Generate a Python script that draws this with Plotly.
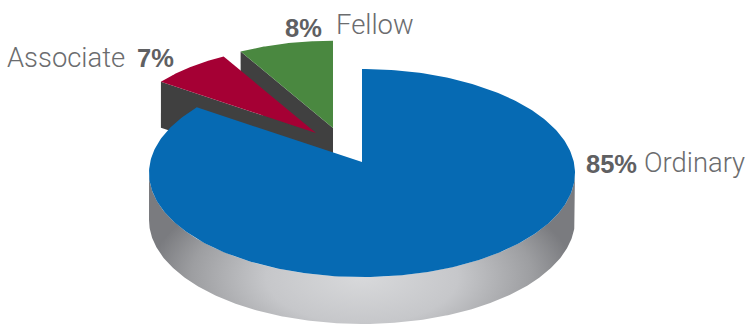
import numpy as np
import plotly.graph_objects as go

categories = ["Ordinary", "Associate", "Fellow"]
values = [85, 7, 8]
colors = ["#066ab3", "#a50034", "#4a8840"]

W, H = 747, 325
RX, RY_VIEW, RY_EDGE = 213, 97, 104
CX, CY = 362, 173          # main ellipse centre
APEX = (362, 162)          # main slice apex (perspective)
DEPTH = 47
EXPLODE_APEX = {"Associate": (316, 133), "Fellow": (333, 128)}
EXPLODE_SCALE = 0.9
WALL = 46
DARK = "#404040"


def main_arc(a0, a1):
    th = np.radians(np.linspace(a0, a1, 300))
    dx, dy = np.sin(th) * RX, -np.cos(th) * RY_VIEW
    ox, oy = APEX[0] - CX, APEX[1] - CY
    A = (dx / RX) ** 2 + (dy / RY_EDGE) ** 2
    B = 2 * (ox * dx / RX ** 2 + oy * dy / RY_EDGE ** 2)
    C = (ox / RX) ** 2 + (oy / RY_EDGE) ** 2 - 1
    t = (-B + np.sqrt(B * B - 4 * A * C)) / (2 * A)
    return APEX[0] + t * dx, APEX[1] + t * dy


def exploded_arc(apex, a0, a1):
    th = np.radians(np.linspace(a0, a1, 80))
    return (apex[0] + EXPLODE_SCALE * RX * np.sin(th),
            apex[1] - EXPLODE_SCALE * RY_VIEW * np.cos(th))


def poly(x, y, color=None, gradient=None):
    kw = dict(fillgradient=gradient) if gradient else dict(fillcolor=color)
    return go.Scatter(x=list(x), y=list(y), mode="lines", fill="toself",
                      line=dict(width=0), hoverinfo="skip", showlegend=False, **kw)


fig = go.Figure()

# Side wall of the main slice, with a radial shine
th = np.radians(np.linspace(90, 270, 300))
ex = CX + RX * np.sin(th)
ey = CY - RY_EDGE * np.cos(th)
side_x = np.concatenate([[ex[0]], ex, [ex[-1]], ex[::-1]])
side_y = np.concatenate([[ey[0]], ey + DEPTH, [ey[-1]], ey[::-1]])
# zero-width spike below the canvas moves the gradient centre to the rim
mid = len(ex) // 2 + 1
side_x = np.concatenate([side_x[:mid], [side_x[mid - 1], side_x[mid - 1], side_x[mid - 1]], side_x[mid:]])
side_y = np.concatenate([side_y[:mid], [side_y[mid - 1], 381, side_y[mid - 1]], side_y[mid:]])
fig.add_trace(poly(side_x, side_y, gradient=dict(
    type="radial",
    colorscale=[[0, "#d8d9db"], [0.45, "#c6c7ca"], [0.8, "#9d9ea1"], [1, "#7a7b7f"]],
)))

# Exploded slices
start = values[0] / sum(values) * 360
spans = {}
a = start
for c, v in zip(categories[1:], values[1:]):
    spans[c] = (a, a + v / sum(values) * 360)
    a += v / sum(values) * 360

for cat in ["Fellow", "Associate"]:
    ap = EXPLODE_APEX[cat]
    a0, a1 = spans[cat]
    ax, ay = exploded_arc(ap, a0, a1)
    fig.add_trace(poly([ax[0], ax[0], ap[0], ap[0], ax[0]],
                       [ay[0], ay[0] + WALL, ap[1] + WALL, ap[1], ay[0]], color=DARK))
    fig.add_trace(poly(np.r_[ap[0], ax, ap[0]], np.r_[ap[1], ay, ap[1]],
                       color=colors[categories.index(cat)]))

# Main slice
mx, my = main_arc(0, start)
fig.add_trace(poly(np.r_[APEX[0], mx, APEX[0]], np.r_[APEX[1], my, APEX[1]], color=colors[0]))

FAM = "Liberation Sans"
labels = [
    (f"{values[0]}%", 586, 164, True),
    (categories[0], 644, 163, False),
    (categories[1], 7, 58, False),
    (f"{values[1]}%", 137, 58, True),
    (f"{values[2]}%", 285, 28, True),
    (categories[2], 336, 25, False),
]
for text, x, y, bold in labels:
    fig.add_annotation(x=x, y=y, text=f"<b>{text}</b>" if bold else text, showarrow=False,
                       xanchor="left", yanchor="middle",
                       font=dict(family=FAM if bold else "Roboto", size=25.5 if bold else 27.4,
                                 weight=700 if bold else 300,
                                 color="#5f6062" if bold else "#6b6c6e"),
                       borderpad=0, borderwidth=0)

fig.update_layout(
    width=W, height=H, margin=dict(l=0, r=0, t=0, b=0),
    paper_bgcolor="white", plot_bgcolor="white", showlegend=False,
    xaxis=dict(range=[0, W], visible=False, fixedrange=True),
    yaxis=dict(range=[H, 0], visible=False, fixedrange=True),
)
fig.write_html("out.html", config={"displayModeBar": False},
               post_script="document.body.style.margin='0';")
